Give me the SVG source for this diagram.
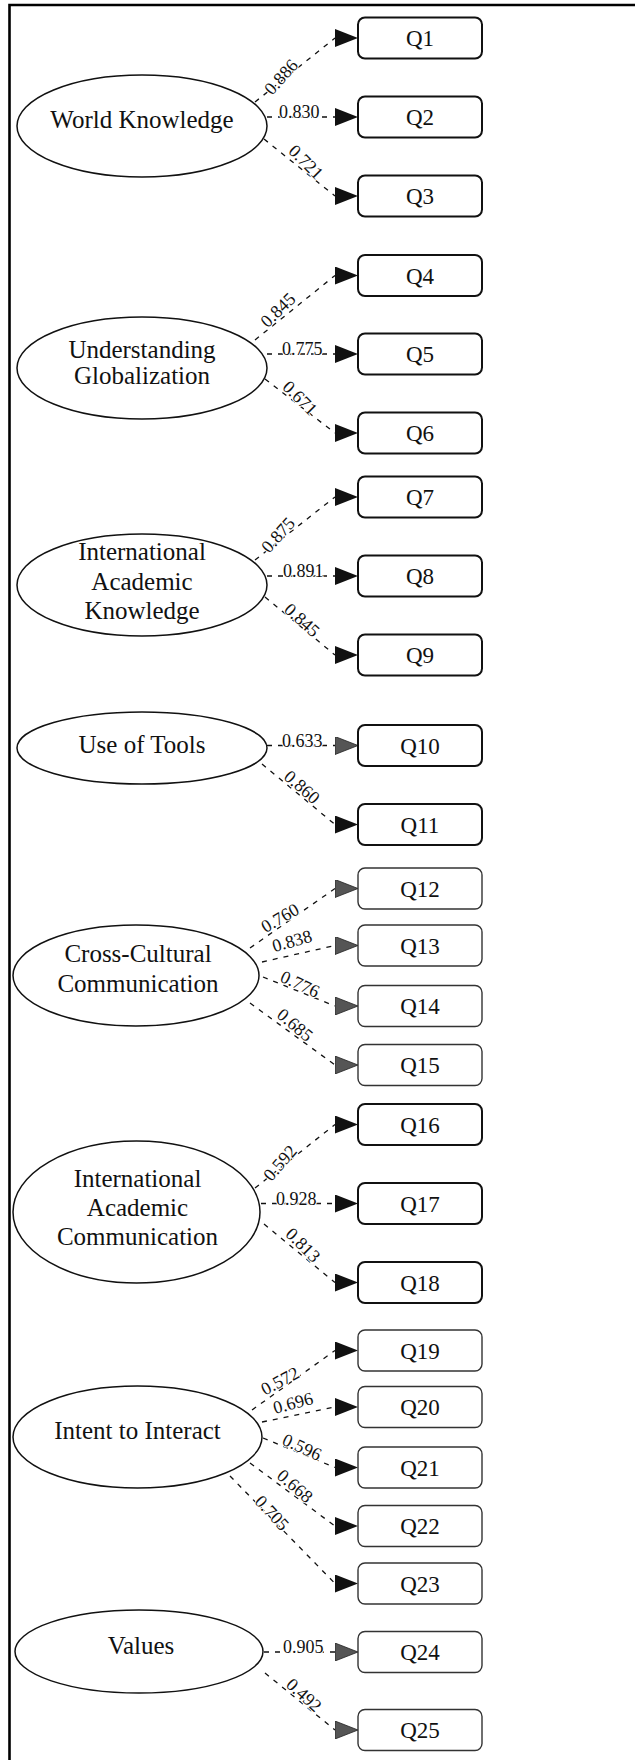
<svg xmlns="http://www.w3.org/2000/svg" width="635" height="1760" viewBox="0 0 635 1760">
<style>
  .frame{stroke:#000;stroke-width:2.6;fill:none}
  .lat{fill:#fff;stroke:#111;stroke-width:1.5}
  .latt{font-family:"Liberation Serif","DejaVu Serif",serif;font-size:25px;fill:#111;text-anchor:middle}
  .box{fill:#fff;stroke:#111;stroke-width:2}
  .box.lt{stroke:#333;stroke-width:1.4}
  .boxt{font-family:"Liberation Serif","DejaVu Serif",serif;font-size:23px;fill:#111;text-anchor:middle}
  .e{fill:none;stroke:#111;stroke-width:1.3;stroke-dasharray:5,6}
  .ed{marker-end:url(#ad)}
  .eg{marker-end:url(#ag)}
  .lbl{font-family:"Liberation Serif","DejaVu Serif",serif;font-size:18px;fill:#111;stroke:#fff;stroke-width:2;paint-order:stroke;text-anchor:middle}
  .lh{text-anchor:start}
</style>
<defs>
  <marker id="ad" markerUnits="userSpaceOnUse" markerWidth="23" markerHeight="18" refX="0" refY="9" orient="0" viewBox="0 0 23 18">
    <path d="M0,0 L23,9 L0,18 z" fill="#111"/>
  </marker>
  <marker id="ag" markerUnits="userSpaceOnUse" markerWidth="23" markerHeight="18" refX="0" refY="9" orient="0" viewBox="0 0 23 18">
    <path d="M0,0 L23,9 L0,18 z" fill="#555" stroke="#222" stroke-width="0.8"/>
  </marker>
</defs>
<rect width="635" height="1760" fill="#fff"/>
<g id="frame">
  <path class="frame" d="M9.5,1760 L9.5,5 L635,5"/>
</g>
<g id="connectors">
  <!-- World Knowledge -->
  <path class="e ed" d="M255,102 L335,38"/>
  <path class="e ed" d="M267,117 L335,117"/>
  <path class="e ed" d="M264,139 L335,196"/>
  <text class="lbl" x="281" y="83" transform="rotate(-48 281 77)">0.886</text>
  <text class="lbl lh" x="279" y="118">0.830</text>
  <text class="lbl" x="306" y="168" transform="rotate(45 306 162)">0.721</text>
  <!-- Understanding Globalization -->
  <path class="e ed" d="M255,340 L335,275.5"/>
  <path class="e ed" d="M267,354 L335,354"/>
  <path class="e ed" d="M265,379 L335,433"/>
  <text class="lbl" x="278" y="316" transform="rotate(-44 278 310)">0.845</text>
  <text class="lbl lh" x="282" y="355">0.775</text>
  <text class="lbl" x="300" y="404" transform="rotate(45 300 398)">0.671</text>
  <!-- International Academic Knowledge -->
  <path class="e ed" d="M255,560 L335,497"/>
  <path class="e ed" d="M267,576 L335,576"/>
  <path class="e ed" d="M265,597 L335,655"/>
  <text class="lbl" x="278" y="541" transform="rotate(-48 278 535)">0.875</text>
  <text class="lbl lh" x="283" y="577">0.891</text>
  <text class="lbl" x="302" y="626" transform="rotate(42 302 620)">0.845</text>
  <!-- Use of Tools -->
  <path class="e eg" d="M267,745.5 L335,745.5"/>
  <path class="e ed" d="M262,764 L335,824.5"/>
  <text class="lbl lh" x="282" y="746.5">0.633</text>
  <text class="lbl" x="302" y="793" transform="rotate(41 302 787)">0.860</text>
  <!-- Cross-Cultural Communication -->
  <path class="e eg" d="M250,948 L335,888.5"/>
  <path class="e eg" d="M262,962 L335,945.5"/>
  <path class="e eg" d="M263,977 L335,1006"/>
  <path class="e eg" d="M250,1003 L335,1065"/>
  <text class="lbl" x="280" y="924" transform="rotate(-30 280 918)">0.760</text>
  <text class="lbl" x="292" y="947" transform="rotate(-16 292 941)">0.838</text>
  <text class="lbl" x="300" y="990" transform="rotate(25 300 984)">0.776</text>
  <text class="lbl" x="295" y="1031" transform="rotate(40 295 1025)">0.685</text>
  <!-- International Academic Communication -->
  <path class="e ed" d="M255,1188 L335,1124.5"/>
  <path class="e ed" d="M261,1203.5 L335,1203.5"/>
  <path class="e ed" d="M264,1224 L335,1282.5"/>
  <text class="lbl" x="280" y="1169" transform="rotate(-49 280 1163)">0.592</text>
  <text class="lbl lh" x="276" y="1204.5">0.928</text>
  <text class="lbl" x="303" y="1251" transform="rotate(45 303 1245)">0.813</text>
  <!-- Intent to Interact -->
  <path class="e ed" d="M252,1410 L335,1350.5"/>
  <path class="e ed" d="M262,1422 L335,1407"/>
  <path class="e ed" d="M263,1438 L335,1467.5"/>
  <path class="e ed" d="M250,1463 L335,1526"/>
  <path class="e ed" d="M230,1476 L335,1583.5"/>
  <text class="lbl" x="280" y="1387" transform="rotate(-28 280 1381)">0.572</text>
  <text class="lbl" x="293" y="1409" transform="rotate(-15 293 1403)">0.696</text>
  <text class="lbl" x="302" y="1453" transform="rotate(25 302 1447)">0.596</text>
  <text class="lbl" x="295" y="1492" transform="rotate(41 295 1486)">0.668</text>
  <text class="lbl" x="272" y="1519" transform="rotate(47 272 1513)">0.705</text>
  <!-- Values -->
  <path class="e eg" d="M264,1652 L335,1652"/>
  <path class="e eg" d="M265,1673 L335,1730"/>
  <text class="lbl lh" x="283" y="1653">0.905</text>
  <text class="lbl" x="304" y="1701" transform="rotate(42 304 1695)">0.492</text>
</g>
<g id="world-knowledge">
  <ellipse class="lat" cx="142" cy="126" rx="125" ry="51"/>
  <text class="latt" x="142" y="128">World Knowledge</text>
</g>
<g id="understanding-globalization">
  <ellipse class="lat" cx="142" cy="368" rx="125" ry="51"/>
  <text class="latt" x="142" y="358">Understanding</text>
  <text class="latt" x="142" y="384">Globalization</text>
</g>
<g id="international-academic-knowledge">
  <ellipse class="lat" cx="142" cy="585" rx="125" ry="51"/>
  <text class="latt" x="142" y="560">International</text>
  <text class="latt" x="142" y="590">Academic</text>
  <text class="latt" x="142" y="619">Knowledge</text>
</g>
<g id="use-of-tools">
  <ellipse class="lat" cx="142" cy="748" rx="125" ry="36"/>
  <text class="latt" x="142" y="753">Use of Tools</text>
</g>
<g id="cross-cultural-communication">
  <ellipse class="lat" cx="136" cy="975.5" rx="123" ry="50.5"/>
  <text class="latt" x="138" y="962">Cross-Cultural</text>
  <text class="latt" x="138" y="992">Communication</text>
</g>
<g id="international-academic-communication">
  <ellipse class="lat" cx="136.5" cy="1212" rx="123.5" ry="71"/>
  <text class="latt" x="137.5" y="1187">International</text>
  <text class="latt" x="137.5" y="1216">Academic</text>
  <text class="latt" x="137.5" y="1245">Communication</text>
</g>
<g id="intent-to-interact">
  <ellipse class="lat" cx="137.5" cy="1437" rx="124.5" ry="51"/>
  <text class="latt" x="137.5" y="1439">Intent to Interact</text>
</g>
<g id="values">
  <ellipse class="lat" cx="139" cy="1651.5" rx="124" ry="41.5"/>
  <text class="latt" x="141" y="1654">Values</text>
</g>
<g id="Q1"><rect class="box" x="358" y="17.5" width="124" height="41" rx="7"/><text class="boxt" x="420" y="46">Q1</text></g>
<g id="Q2"><rect class="box" x="358" y="96.5" width="124" height="41" rx="7"/><text class="boxt" x="420" y="125">Q2</text></g>
<g id="Q3"><rect class="box" x="358" y="175.5" width="124" height="41" rx="7"/><text class="boxt" x="420" y="204">Q3</text></g>
<g id="Q4"><rect class="box" x="358" y="255" width="124" height="41" rx="7"/><text class="boxt" x="420" y="283.5">Q4</text></g>
<g id="Q5"><rect class="box" x="358" y="333.5" width="124" height="41" rx="7"/><text class="boxt" x="420" y="362">Q5</text></g>
<g id="Q6"><rect class="box" x="358" y="412.5" width="124" height="41" rx="7"/><text class="boxt" x="420" y="441">Q6</text></g>
<g id="Q7"><rect class="box" x="358" y="476.5" width="124" height="41" rx="7"/><text class="boxt" x="420" y="505">Q7</text></g>
<g id="Q8"><rect class="box" x="358" y="555.5" width="124" height="41" rx="7"/><text class="boxt" x="420" y="584">Q8</text></g>
<g id="Q9"><rect class="box" x="358" y="634.5" width="124" height="41" rx="7"/><text class="boxt" x="420" y="663">Q9</text></g>
<g id="Q10"><rect class="box" x="358" y="725" width="124" height="41" rx="7"/><text class="boxt" x="420" y="753.5">Q10</text></g>
<g id="Q11"><rect class="box" x="358" y="804" width="124" height="41" rx="7"/><text class="boxt" x="420" y="832.5">Q11</text></g>
<g id="Q12"><rect class="box lt" x="358" y="868" width="124" height="41" rx="7"/><text class="boxt" x="420" y="896.5">Q12</text></g>
<g id="Q13"><rect class="box lt" x="358" y="925" width="124" height="41" rx="7"/><text class="boxt" x="420" y="953.5">Q13</text></g>
<g id="Q14"><rect class="box lt" x="358" y="985.5" width="124" height="41" rx="7"/><text class="boxt" x="420" y="1014">Q14</text></g>
<g id="Q15"><rect class="box lt" x="358" y="1044.5" width="124" height="41" rx="7"/><text class="boxt" x="420" y="1073">Q15</text></g>
<g id="Q16"><rect class="box" x="358" y="1104" width="124" height="41" rx="7"/><text class="boxt" x="420" y="1132.5">Q16</text></g>
<g id="Q17"><rect class="box" x="358" y="1183" width="124" height="41" rx="7"/><text class="boxt" x="420" y="1211.5">Q17</text></g>
<g id="Q18"><rect class="box" x="358" y="1262" width="124" height="41" rx="7"/><text class="boxt" x="420" y="1290.5">Q18</text></g>
<g id="Q19"><rect class="box lt" x="358" y="1330" width="124" height="41" rx="7"/><text class="boxt" x="420" y="1358.5">Q19</text></g>
<g id="Q20"><rect class="box lt" x="358" y="1386.5" width="124" height="41" rx="7"/><text class="boxt" x="420" y="1415">Q20</text></g>
<g id="Q21"><rect class="box lt" x="358" y="1447" width="124" height="41" rx="7"/><text class="boxt" x="420" y="1475.5">Q21</text></g>
<g id="Q22"><rect class="box lt" x="358" y="1505.5" width="124" height="41" rx="7"/><text class="boxt" x="420" y="1534">Q22</text></g>
<g id="Q23"><rect class="box lt" x="358" y="1563" width="124" height="41" rx="7"/><text class="boxt" x="420" y="1591.5">Q23</text></g>
<g id="Q24"><rect class="box lt" x="358" y="1631.5" width="124" height="41" rx="7"/><text class="boxt" x="420" y="1660">Q24</text></g>
<g id="Q25"><rect class="box lt" x="358" y="1709.5" width="124" height="41" rx="7"/><text class="boxt" x="420" y="1738">Q25</text></g>
</svg>
